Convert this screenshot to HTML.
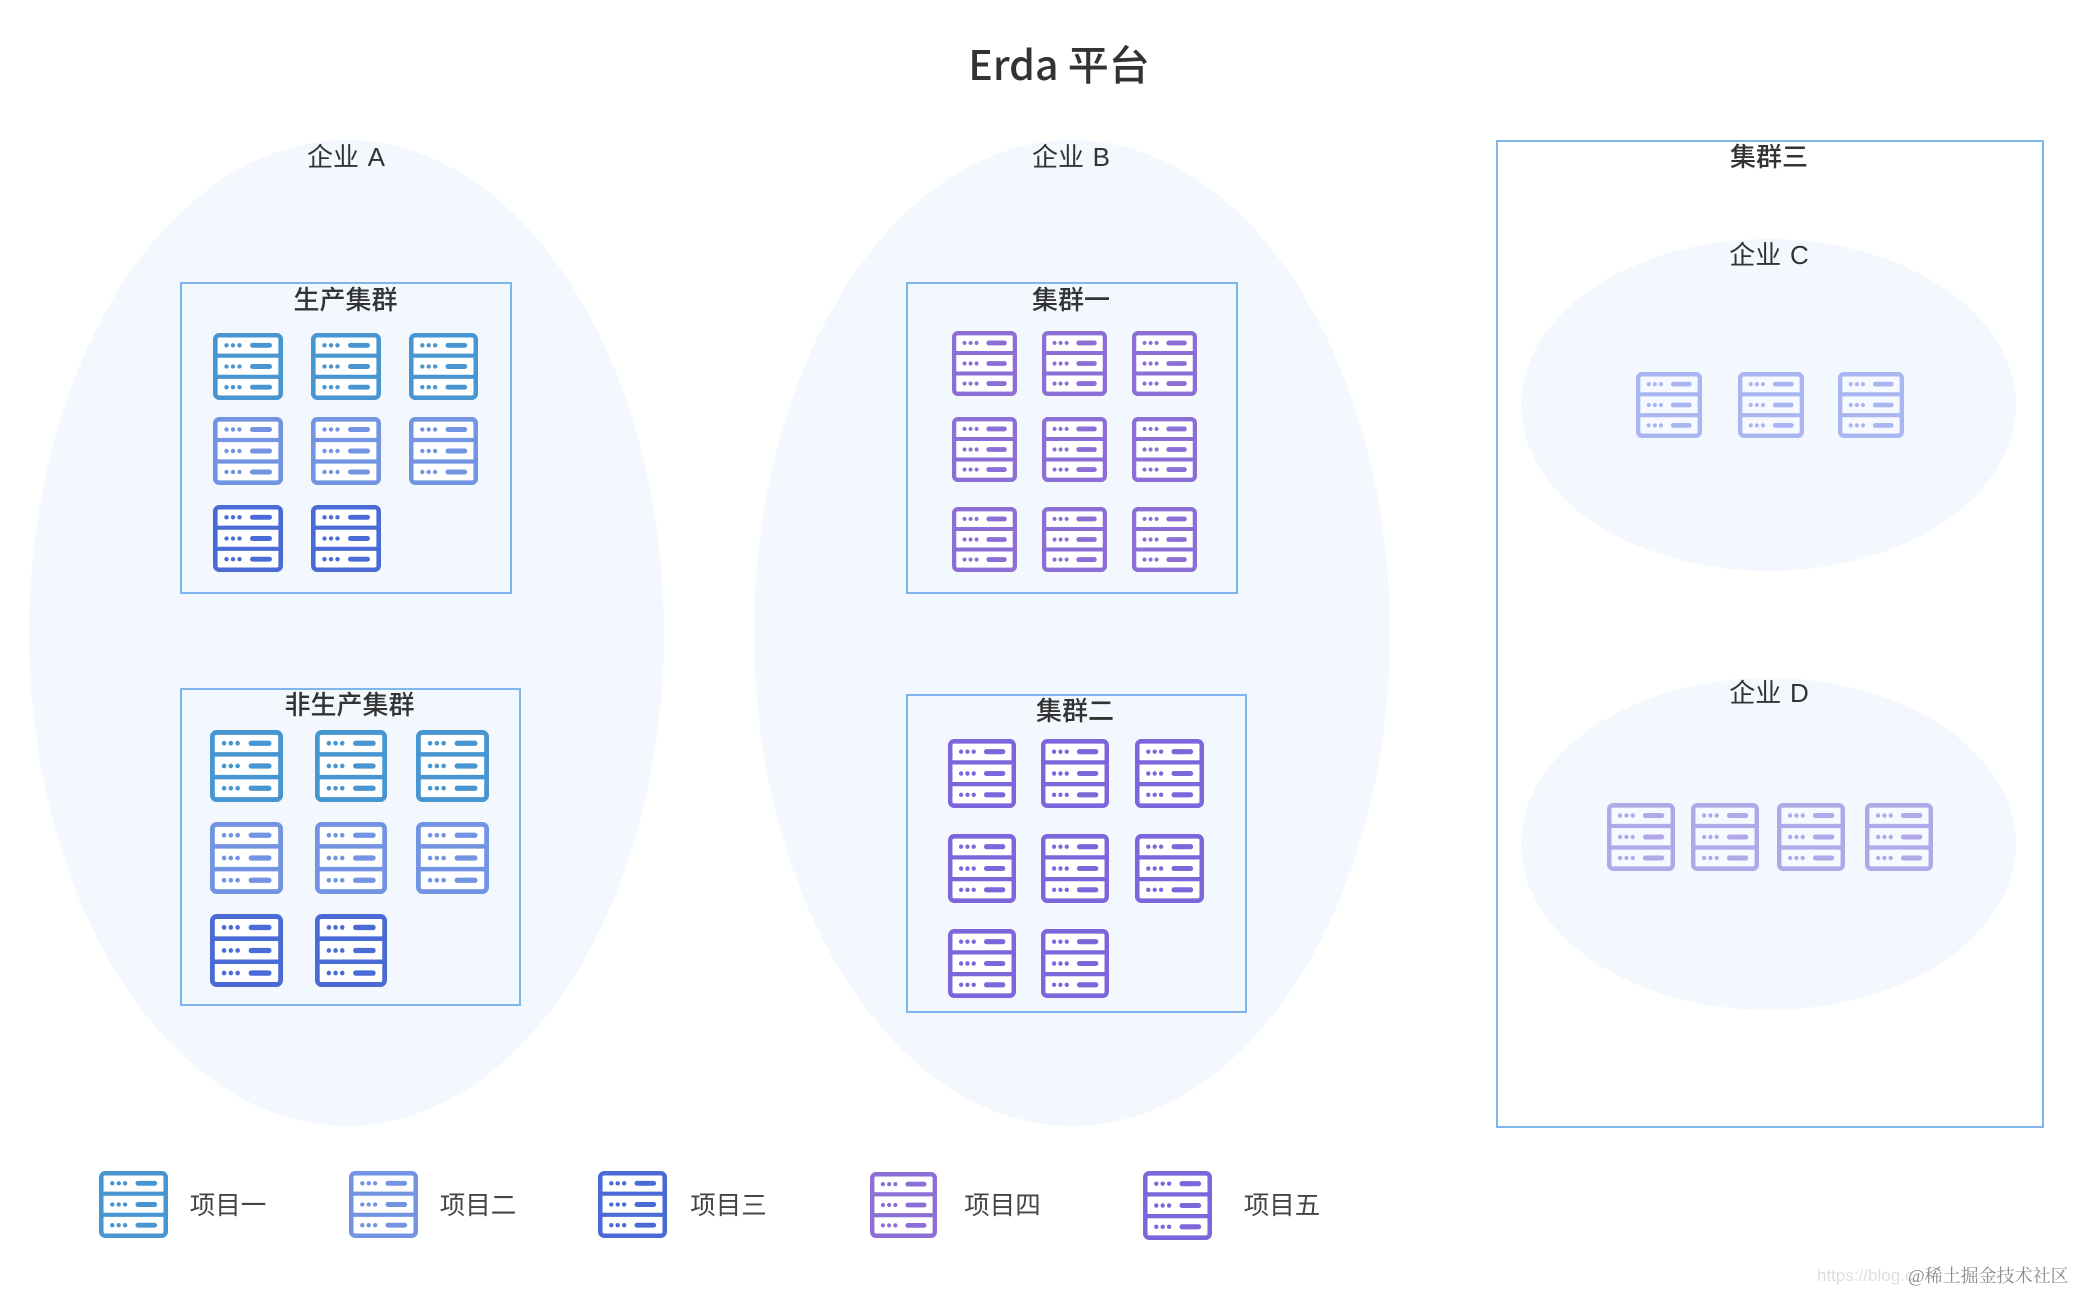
<!DOCTYPE html>
<html><head><meta charset="utf-8"><style>
html,body{margin:0;padding:0;background:#fff}
svg{display:block}
text{font-family:"Liberation Sans","Noto Sans CJK SC",sans-serif;fill:#333;text-anchor:middle}
.t{font-size:26px;font-weight:400;word-spacing:1.5px}
.b{font-size:26px;font-weight:500}
.l{font-size:25.5px;font-weight:400;fill:#444}
</style></head><body>
<svg width="2074" height="1292" viewBox="0 0 2074 1292" xmlns="http://www.w3.org/2000/svg">
<defs>
<symbol id="s" viewBox="0 0 70 68" preserveAspectRatio="none">
<rect x="2.3" y="2.300" width="65.400" height="63.400" rx="4" fill="var(--f,#fff)" stroke="currentColor" stroke-width="4.600"/>
<path d="M2 23H68M2 44.5H68" stroke="currentColor" stroke-width="4.200" fill="none"/>
<g fill="currentColor"><circle cx="13.5" cy="12.5" r="2.200"/><circle cx="20" cy="12.5" r="2.200"/><circle cx="26.5" cy="12.5" r="2.200"/><circle cx="13.5" cy="34" r="2.200"/><circle cx="20" cy="34" r="2.200"/><circle cx="26.5" cy="34" r="2.200"/><circle cx="13.5" cy="55" r="2.200"/><circle cx="20" cy="55" r="2.200"/><circle cx="26.5" cy="55" r="2.200"/>
<rect x="37" y="10" width="22" height="5" rx="2.500"/><rect x="37" y="31.500" width="22" height="5" rx="2.500"/><rect x="37" y="52.500" width="22" height="5" rx="2.500"/></g>
</symbol>
</defs>
<rect width="2074" height="1292" fill="#fff"/>
<text x="1059" y="80" style="font-family:'Noto Sans CJK SC','Liberation Sans',sans-serif;font-size:41px;font-weight:500">Erda 平台</text>

<ellipse cx="346.5" cy="633" rx="317.5" ry="493" fill="#f3f8fe"/>
<ellipse cx="1072" cy="633" rx="318" ry="493" fill="#f3f8fe"/>
<rect x="1497" y="141" width="546" height="986" fill="#fff" stroke="#7fb6ec" stroke-width="2"/>
<ellipse cx="1768.500" cy="405" rx="247.500" ry="166" fill="#f3f8fe"/>
<ellipse cx="1768.500" cy="844" rx="247.500" ry="166" fill="#f3f8fe"/>

<text class="t" x="346" y="166">企业 A</text>
<text class="t" x="1071" y="166">企业 B</text>
<text class="b" x="1769" y="166">集群三</text>
<text class="t" x="1769" y="264">企业 C</text>
<text class="t" x="1769" y="702">企业 D</text>

<g fill="none" stroke="#7fb6ec" stroke-width="2">
<rect x="181" y="283" width="330" height="310"/>
<rect x="181" y="689" width="339" height="316"/>
<rect x="907" y="283" width="330" height="310"/>
<rect x="907" y="695" width="339" height="317"/>
</g>
<text class="b" x="345.500" y="309">生产集群</text>
<text class="b" x="349.500" y="714">非生产集群</text>
<text class="b" x="1071" y="309">集群一</text>
<text class="b" x="1075" y="720">集群二</text>

<g color="#4795d1">
<use href="#s" x="213" y="333" width="70" height="67"/><use href="#s" x="311" y="333" width="70" height="67"/><use href="#s" x="409" y="333" width="69" height="67"/>
<use href="#s" x="210" y="730" width="73" height="72"/><use href="#s" x="315" y="730" width="72" height="72"/><use href="#s" x="416" y="730" width="73" height="72"/>
<use href="#s" x="99" y="1171" width="69" height="67"/>
</g>
<g color="#7294e2">
<use href="#s" x="213" y="417" width="70" height="68"/><use href="#s" x="311" y="417" width="70" height="68"/><use href="#s" x="409" y="417" width="69" height="68"/>
<use href="#s" x="210" y="822" width="73" height="72"/><use href="#s" x="315" y="822" width="72" height="72"/><use href="#s" x="416" y="822" width="73" height="72"/>
<use href="#s" x="349" y="1171" width="69" height="67"/>
</g>
<g color="#4a6bd6">
<use href="#s" x="213" y="505" width="70" height="67"/><use href="#s" x="311" y="505" width="70" height="67"/>
<use href="#s" x="210" y="914" width="73" height="73"/><use href="#s" x="315" y="914" width="72" height="73"/>
<use href="#s" x="598" y="1171" width="69" height="67"/>
</g>
<g color="#8c6fd6">
<use href="#s" x="952" y="331" width="65" height="65"/><use href="#s" x="1042" y="331" width="65" height="65"/><use href="#s" x="1132" y="331" width="65" height="65"/>
<use href="#s" x="952" y="417" width="65" height="65"/><use href="#s" x="1042" y="417" width="65" height="65"/><use href="#s" x="1132" y="417" width="65" height="65"/>
<use href="#s" x="952" y="507" width="65" height="65"/><use href="#s" x="1042" y="507" width="65" height="65"/><use href="#s" x="1132" y="507" width="65" height="65"/>
<use href="#s" x="870" y="1172" width="67" height="66"/>
</g>
<g color="#7d65dc">
<use href="#s" x="948" y="739" width="68" height="69"/><use href="#s" x="1041" y="739" width="68" height="69"/><use href="#s" x="1135" y="739" width="69" height="69"/>
<use href="#s" x="948" y="834" width="68" height="69"/><use href="#s" x="1041" y="834" width="68" height="69"/><use href="#s" x="1135" y="834" width="69" height="69"/>
<use href="#s" x="948" y="929" width="68" height="69"/><use href="#s" x="1041" y="929" width="68" height="69"/>
<use href="#s" x="1143" y="1171" width="69" height="69"/>
</g>
<g color="#a9b6f1" style="--f:#f6f9ff">
<use href="#s" x="1636" y="372" width="66" height="66"/><use href="#s" x="1738" y="372" width="66" height="66"/><use href="#s" x="1838" y="372" width="66" height="66"/>
</g>
<g color="#b1a8e9" style="--f:#f6f9ff">
<use href="#s" x="1607" y="803" width="68" height="68"/><use href="#s" x="1691" y="803" width="68" height="68"/><use href="#s" x="1777" y="803" width="68" height="68"/><use href="#s" x="1865" y="803" width="68" height="68"/>
</g>

<text class="l" x="228" y="1214">项目一</text>
<text class="l" x="478" y="1214">项目二</text>
<text class="l" x="728.500" y="1214">项目三</text>
<text class="l" x="1002.500" y="1214">项目四</text>
<text class="l" x="1282" y="1214">项目五</text>

<text x="1817" y="1281" style="font-family:'Liberation Sans',sans-serif;font-size:17px;fill:#dedede;text-anchor:start">https://blog.c</text>
<text x="1908" y="1282" style="font-family:'Liberation Serif','Noto Serif CJK SC',serif;font-size:18px;fill:#8a8a8a;text-anchor:start">@稀土掘金技术社区</text>
</svg>
</body></html>
